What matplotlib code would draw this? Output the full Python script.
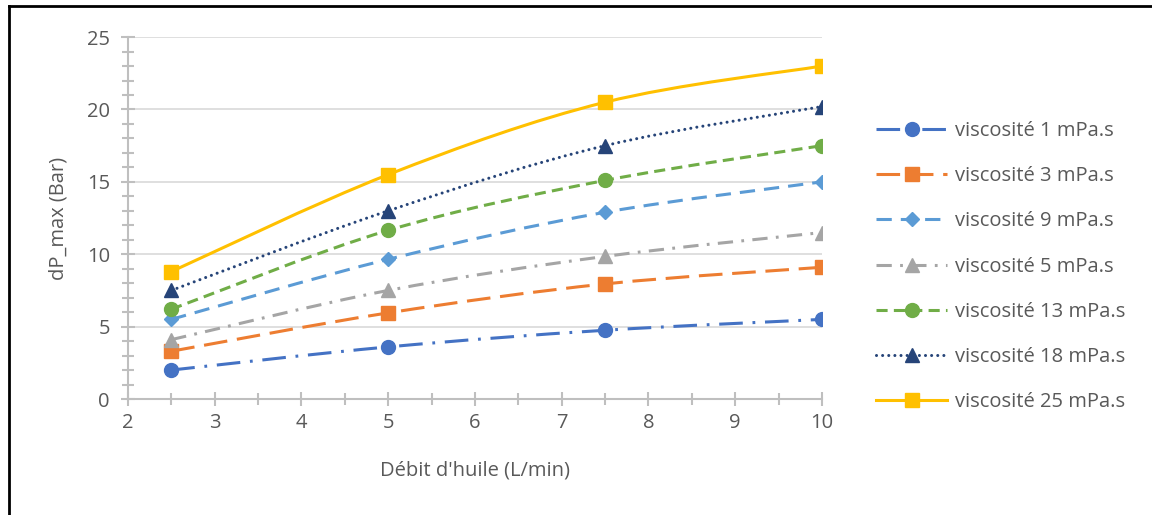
import matplotlib.pyplot as plt
import numpy as np
from matplotlib.path import Path
from matplotlib.patches import PathPatch
from matplotlib.lines import Line2D
from matplotlib.ticker import MultipleLocator

plt.rcParams['font.family'] = ['Open Sans', 'DejaVu Sans']
plt.rcParams['lines.scale_dashes'] = False

debit = [2.5, 5, 7.5, 10]
labels = ['viscosité 1 mPa.s', 'viscosité 3 mPa.s', 'viscosité 9 mPa.s', 'viscosité 5 mPa.s',
          'viscosité 13 mPa.s', 'viscosité 18 mPa.s', 'viscosité 25 mPa.s']
v1 = [2.0, 3.6, 4.75, 5.5]
v3 = [3.3, 5.95, 7.95, 9.1]
v9 = [5.5, 9.65, 12.9, 15.0]
v5 = [4.1, 7.5, 9.85, 11.5]
v13 = [6.2, 11.65, 15.1, 17.5]
v18 = [7.5, 13.0, 17.5, 20.2]
v25 = [8.8, 15.5, 20.5, 23.0]
series = [v1, v3, v9, v5, v13, v18, v25]

colors = ['#4472C4', '#ED7D31', '#5B9BD5', '#A5A5A5', '#70AD47', '#264478', '#FFC000']
markers = ['o', 's', 'D', '^', 'o', '^', 's']
msizes = [10, 9.5, 7.5, 10, 10, 10, 9.5]
dotted = (0, (0.01, 4.4))
dashes = [(0, (17, 7, 2, 7)), (0, (17, 7)), (0, (11, 6.5)), (0, (11, 6, 2, 6)),
          (0, (8, 4.5)), dotted, '-']

text_col = '#595959'
axis_col = '#BFBFBF'
fs = 14.5


def smooth_path(x, y):
    # cubic bezier through the points (like excel "smoothed line")
    pts = np.column_stack([x, y]).astype(float)
    ext = np.vstack([pts[0], pts, pts[-1]])
    verts = [pts[0]]
    codes = [Path.MOVETO]
    for i in range(len(pts) - 1):
        p0, p1, p2, p3 = ext[i], ext[i + 1], ext[i + 2], ext[i + 3]
        verts += [p1 + (p2 - p0) / 6, p2 - (p3 - p1) / 6, p2]
        codes += [Path.CURVE4] * 3
    return Path(verts, codes)


fig = plt.figure(figsize=(11.52, 5.15), dpi=100)
ax = fig.add_axes([0.111, 0.2252, 0.6025, 0.7028])

handles = []
for vals, c, m, ms, ls in zip(series, colors, markers, msizes, dashes):
    cap = 'round' if ls == dotted else 'butt'
    ax.add_patch(PathPatch(smooth_path(debit, vals), fill=False, edgecolor=c, lw=2.2,
                           linestyle=ls, capstyle=cap, zorder=3))
    ax.plot(debit, vals, linestyle='none', marker=m, markersize=ms, color=c, zorder=4)
    handles.append(Line2D([], [], color=c, lw=2.2, linestyle=ls, marker=m, markersize=ms,
                          dash_capstyle=cap))

ax.set_xlim(2, 10)
ax.set_ylim(0, 25)
ax.xaxis.set_major_locator(MultipleLocator(1))
ax.xaxis.set_minor_locator(MultipleLocator(0.5))
ax.yaxis.set_major_locator(MultipleLocator(5))
ax.yaxis.set_minor_locator(MultipleLocator(1))
ax.grid(axis='y', which='major', color='#D9D9D9', lw=1.2)
ax.set_axisbelow(True)
for s in ['top', 'right']:
    ax.spines[s].set_visible(False)
for s in ['left', 'bottom']:
    ax.spines[s].set_color(axis_col)
    ax.spines[s].set_linewidth(1.5)
ax.tick_params(which='both', direction='inout', color=axis_col, width=1.5, labelcolor=text_col, labelsize=fs)
ax.tick_params(which='major', length=10, pad=5)
ax.tick_params(axis='y', which='major', pad=8)
ax.tick_params(which='minor', length=8)
ax.set_xlabel("Débit d'huile (L/min)", color=text_col, fontsize=fs, labelpad=20)
ax.set_ylabel('dP_max (Bar)', color=text_col, fontsize=fs, labelpad=13)

fig.legend(handles, labels, loc='upper left', bbox_to_anchor=(0.745, 0.80), frameon=False,
           fontsize=fs, labelcolor=text_col, handlelength=3.5, handletextpad=0.4,
           labelspacing=1.25)

# border of the screenshot (left and top only)
fig.add_artist(Line2D([0.0075, 0.0075], [0, 0.988], transform=fig.transFigure, color='black', lw=2))
fig.add_artist(Line2D([0.0075, 1], [0.988, 0.988], transform=fig.transFigure, color='black', lw=2))

fig.savefig('out.png', dpi=100)
